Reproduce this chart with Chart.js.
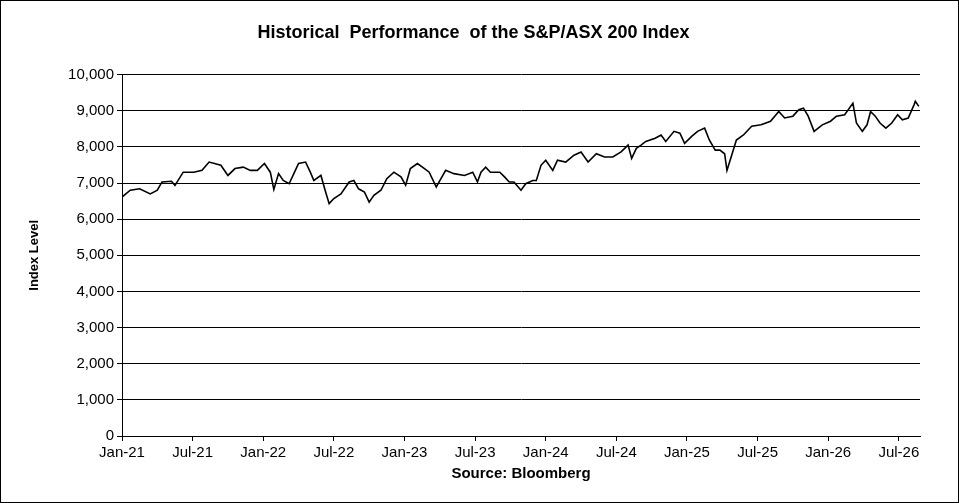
<!DOCTYPE html>
<html>
<head>
<meta charset="utf-8">
<script src="https://cdn.jsdelivr.net/npm/chart.js@4"></script>
<style>
  html, body { margin: 0; padding: 0; background: #fff; }
  #wrap { position: absolute; left: 0; top: 0; width: 957px; height: 501px; border: 1px solid #000; }
</style>
</head>
<body>
<div id="wrap"><canvas id="chart" width="957" height="501"></canvas></div>
<script>
// months since Jan-21, index level
var months = [0, 0.7, 1.5, 2.4, 3.0, 3.4, 4.2, 4.5, 5.2, 6.1, 6.8, 7.4, 8.4, 9.0, 9.6, 10.3, 10.9, 11.5, 12.1, 12.6,
  12.9, 13.3, 13.7, 14.2, 14.6, 15.0, 15.6, 16.0, 16.3, 16.9, 17.3, 17.6, 18.0, 18.6, 19.3, 19.7, 20.1, 20.6, 21.0, 21.4,
  22.0, 22.5, 23.1, 23.7, 24.1, 24.5, 25.1, 25.7, 26.1, 26.7, 27.1, 27.5, 28.2, 29.1, 29.8, 30.2, 30.5, 30.9, 31.3, 32.1,
  32.5, 32.9, 33.3, 33.9, 34.3, 34.9, 35.2, 35.6, 36.0, 36.6, 37.0, 37.7, 38.4, 39.0, 39.6, 40.3, 41.0, 41.7, 42.4, 43.0,
  43.3, 43.7, 44.1, 44.5, 45.3, 45.8, 46.2, 46.9, 47.4, 47.8, 48.4, 48.9, 49.5, 49.9, 50.4, 50.8, 51.2, 51.4, 51.8, 52.2,
  52.8, 53.5, 54.3, 55.1, 55.8, 56.3, 57.0, 57.5, 57.9, 58.3, 58.8, 59.5, 60.2, 60.7, 61.4, 62.1, 62.4, 62.9, 63.3, 63.6,
  64.0, 64.4, 64.9, 65.4, 65.9, 66.3, 66.8, 67.3, 67.4, 67.7];
var levels = [6610, 6800, 6840, 6700, 6800, 7030, 7050, 6935, 7300, 7300, 7350, 7580, 7490, 7210, 7400, 7440, 7350, 7350, 7540, 7300,
  6820, 7260, 7070, 6980, 7260, 7540, 7580, 7300, 7070, 7210, 6750, 6430, 6570, 6700, 7030, 7070, 6840, 6750, 6470, 6660,
  6800, 7120, 7300, 7170, 6940, 7400, 7540, 7400, 7300, 6890, 7120, 7350, 7260, 7210, 7300, 7030, 7300, 7440, 7300, 7300,
  7170, 7030, 7030, 6800, 6980, 7070, 7070, 7490, 7630, 7350, 7630, 7580, 7770, 7860, 7580, 7810, 7720, 7720, 7860, 8050,
  7680, 7960, 8050, 8150, 8240, 8330, 8150, 8430, 8380, 8100, 8290, 8430, 8520, 8190, 7910, 7910, 7810, 7350, 7770, 8190,
  8330, 8570, 8610, 8710, 8980, 8800, 8850, 9030, 9070, 8850, 8430, 8610, 8710, 8850, 8890, 9210, 8660, 8430, 8610, 8980,
  8850, 8660, 8520, 8660, 8890, 8750, 8800, 9170, 9260, 9120];
var tickLabels = ['Jan-21', 'Jul-21', 'Jan-22', 'Jul-22', 'Jan-23', 'Jul-23', 'Jan-24', 'Jul-24', 'Jan-25', 'Jul-25', 'Jan-26', 'Jul-26'];

var pts = months.map(function(m, i) { return {x: m, y: levels[i]}; });
var font = 'Arial, "Liberation Sans", sans-serif';

new Chart(document.getElementById('chart'), {
  type: 'line',
  data: { datasets: [{ data: pts, borderColor: '#000', borderWidth: 1.6, pointRadius: 0, tension: 0 }] },
  options: {
    responsive: false,
    animation: false,
    layout: { padding: { left: 26, right: 38, top: 6, bottom: 19 } },
    plugins: {
      legend: { display: false },
      title: { display: true, text: 'Historical  Performance  of the S&P/ASX 200 Index', color: '#000',
        font: { family: font, size: 18, weight: 'bold' }, padding: { top: 15, bottom: 31 } }
    },
    scales: {
      x: {
        type: 'linear', min: 0, max: 67.8,
        afterBuildTicks: function(ax) { ax.ticks = tickLabels.map(function(t, i) { return {value: i * 6}; }); },
        ticks: { color: '#000', font: { family: font, size: 15 }, maxRotation: 0, autoSkip: false,
          callback: function(v) { return tickLabels[Math.round(v / 6)]; } },
        grid: { display: true, drawOnChartArea: false, color: '#000', tickLength: 5 },
        border: { color: '#000', width: 1 },
        title: { display: true, text: 'Source: Bloomberg', color: '#000', font: { family: font, size: 15, weight: 'bold' }, padding: 0 }
      },
      y: {
        min: 0, max: 10000,
        ticks: { stepSize: 1000, color: '#000', font: { family: font, size: 15 },
          callback: function(v) { return v.toLocaleString('en-US'); } },
        grid: { color: '#000', tickLength: 5 },
        border: { color: '#000', width: 1 },
        afterFit: function(ax) { ax.width = 95; },
        title: { display: true, text: 'Index Level', color: '#000', font: { family: font, size: 13, weight: 'bold' }, padding: 0 }
      }
    }
  }
});
</script>
</body>
</html>
